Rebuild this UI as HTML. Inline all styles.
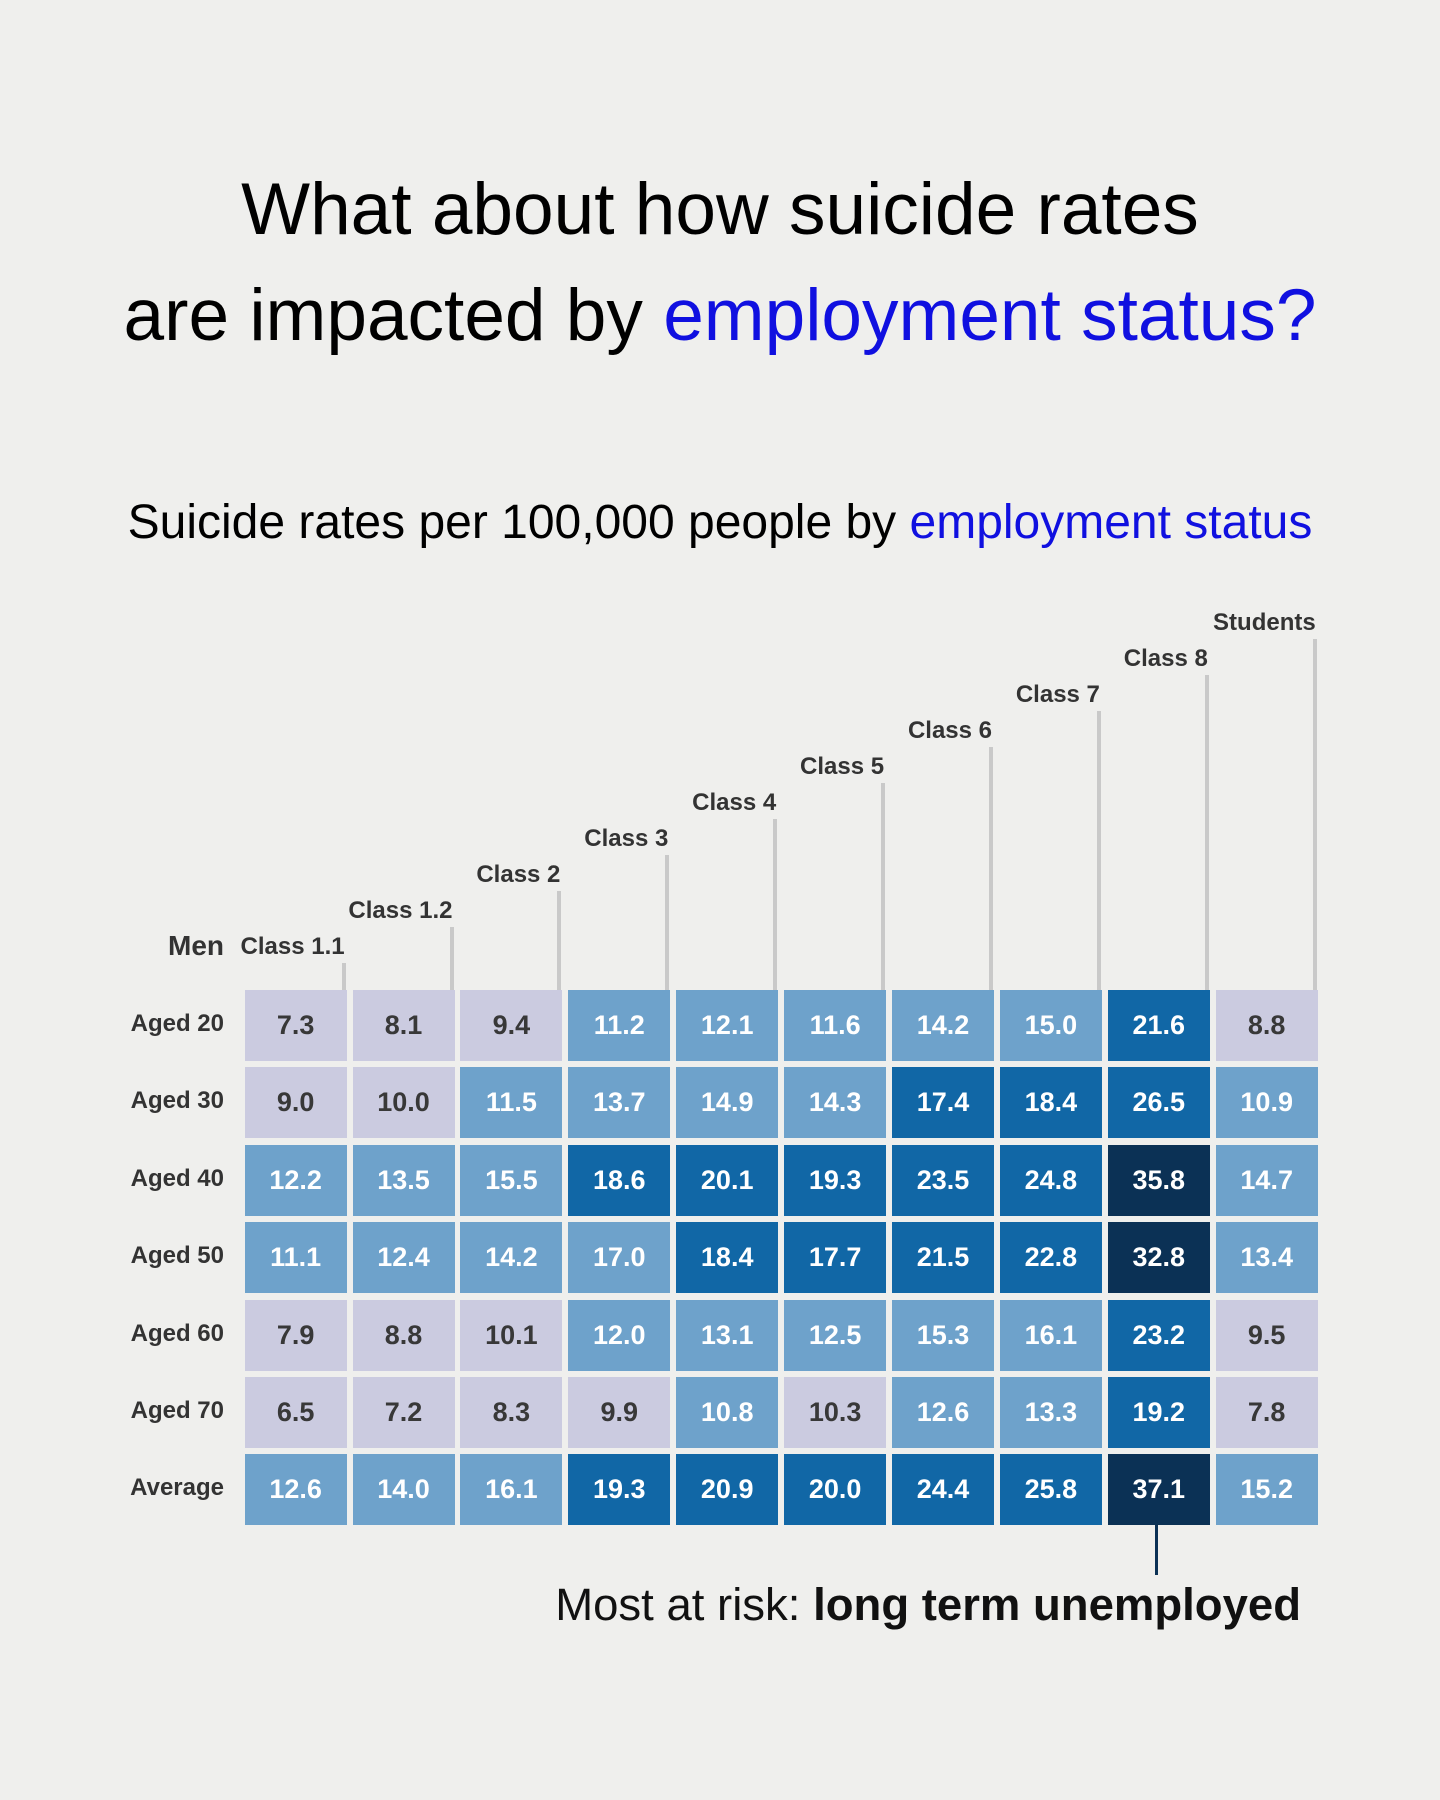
<!DOCTYPE html>
<html><head><meta charset="utf-8"><style>
*{margin:0;padding:0;box-sizing:border-box}
body{width:1440px;height:1800px;background:#efefed;position:relative;overflow:hidden;font-family:"Liberation Sans",sans-serif}
.t{position:absolute;left:0;width:1440px;text-align:center;color:#000;font-size:73px}
.b{color:#1010e0}
.c{position:absolute;width:102px;height:71px;display:flex;align-items:center;justify-content:center;font-size:27px;font-weight:bold;color:#fff}
.L{background:#cbcbe0;color:#383838}
.M{background:#6ea2cb}
.D{background:#1167a6}
.N{background:#0b3155}
.rl{position:absolute;right:1216px;font-size:24px;color:#333;line-height:30px;font-weight:bold}
.cl{position:absolute;font-size:24px;font-weight:bold;color:#333;line-height:30px;text-align:right}
.ln{position:absolute;width:4px;background:#c9c9c9}
</style></head><body>
<div class="t" style="top:168px">What about how suicide rates</div>
<div class="t" style="top:274px">are impacted by <span class="b">employment status?</span></div>
<div class="t" style="top:495px;font-size:48px;left:0">Suicide rates per 100,000 people by <span class="b">employment status</span></div>
<div id="g"></div>
<div style="position:absolute;left:1155px;top:1523px;width:3px;height:52px;background:#0b3155"></div>
<div style="position:absolute;left:0;width:1301px;text-align:right;top:1579px;font-size:45.5px;color:#111">Most at risk: <b>long term unemployed</b></div>
<script>
var data=[[7.3,8.1,9.4,11.2,12.1,11.6,14.2,15.0,21.6,8.8],[9.0,10.0,11.5,13.7,14.9,14.3,17.4,18.4,26.5,10.9],[12.2,13.5,15.5,18.6,20.1,19.3,23.5,24.8,35.8,14.7],[11.1,12.4,14.2,17.0,18.4,17.7,21.5,22.8,32.8,13.4],[7.9,8.8,10.1,12.0,13.1,12.5,15.3,16.1,23.2,9.5],[6.5,7.2,8.3,9.9,10.8,10.3,12.6,13.3,19.2,7.8],[12.6,14.0,16.1,19.3,20.9,20.0,24.4,25.8,37.1,15.2]];
var rows=["Aged 20","Aged 30","Aged 40","Aged 50","Aged 60","Aged 70","Average"];
var cols=["Class 1.1","Class 1.2","Class 2","Class 3","Class 4","Class 5","Class 6","Class 7","Class 8","Students"];
var h="";
for(var r=0;r<7;r++){var y=990+r*77.4;
h+='<div class="rl" style="top:'+(y+19)+'px">'+rows[r]+'</div>';
for(var c=0;c<10;c++){var v=data[r][c];var k=v<10.5?"L":v<17.2?"M":v<30?"D":"N";
h+='<div class="c '+k+'" style="left:'+(244.6+c*107.9)+'px;top:'+y+'px">'+v.toFixed(1)+'</div>';}}
for(var c=0;c<10;c++){var xr=244.6+c*107.9+102;var ly=947-c*36;
h+='<div class="cl" style="right:'+(1440-xr+2)+'px;top:'+(ly-15)+'px">'+cols[c]+'</div>';
h+='<div class="ln" style="left:'+(xr-5)+'px;top:'+(ly+16)+'px;height:'+(990-ly-16)+'px"></div>';}
h+='<div class="cl" style="right:1216px;top:931px;font-size:28px;line-height:30px">Men</div>';
document.getElementById("g").innerHTML=h;
</script>
</body></html>
